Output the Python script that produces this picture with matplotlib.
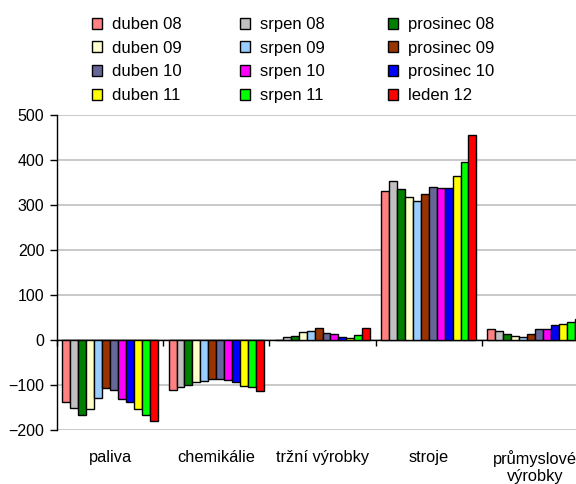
import matplotlib
matplotlib.use("Agg")
import matplotlib.pyplot as plt
import matplotlib.transforms as mtransforms
from matplotlib.patches import Patch
import numpy as np

plt.rcParams['font.family'] = ['Liberation Sans', 'DejaVu Sans']

categories = ["paliva", "chemikálie", "tržní výrobky", "stroje", "průmyslové\nvýrobky"]
series_names = ["duben 08", "srpen 08", "prosinec 08",
                "duben 09", "srpen 09", "prosinec 09",
                "duben 10", "srpen 10", "prosinec 10",
                "duben 11", "srpen 11", "leden 12"]
colors = ["#FF8080", "#C0C0C0", "#008000",
          "#FFFFCC", "#99CCFF", "#993300",
          "#666699", "#FF00FF", "#0000FF",
          "#FFFF00", "#00FF00", "#FF0000"]

paliva = [-137, -150, -167, -153, -128, -107, -111, -130, -138, -154, -166, -179]
chemikalie = [-110, -105, -101, -93, -91, -87, -87, -89, -93, -102, -105, -113]
trzni = [1, 6, 9, 18, 21, 26, 16, 13, 6, 4, 11, 26]
stroje = [331, 353, 336, 318, 308, 325, 339, 337, 337, 365, 396, 456]
prumyslove = [24, 21, 13, 8, 7, 13, 24, 24, 33, 35, 41, 47]

data = np.array([paliva, chemikalie, trzni, stroje, prumyslove])  # cat x series

W, H = 576, 484
fig = plt.figure(figsize=(W / 100, H / 100), dpi=100)
ax = fig.add_axes([57 / W, 54 / H, (588 - 57) / W, (430 - 115) / H])

ncat = len(categories)
nser = len(series_names)
bw = 0.0749
x = np.arange(ncat) + 0.5
for j in range(nser):
    ax.bar(x + (j - (nser - 1) / 2) * bw, data[:, j], width=bw,
           color=colors[j], edgecolor="black", linewidth=1.0, zorder=3)

ax.set_xlim(0, ncat)
ax.set_ylim(-200, 500)
ax.set_yticks(np.arange(-200, 501, 100))
ax.yaxis.grid(True, color="#C0C0C0", linewidth=1.2, zorder=0)
ax.set_axisbelow(True)

for s in ["top", "right"]:
    ax.spines[s].set_visible(False)
ax.spines["left"].set_linewidth(1.0)
ax.spines["bottom"].set_position(("data", 0))
ax.spines["bottom"].set_linewidth(1.0)
ax.set_xticks(np.arange(0, ncat + 1))
ax.set_xticklabels([])
ax.tick_params(axis="x", direction="out", length=4, width=1)
ax.tick_params(axis="y", direction="out", length=5, width=1, labelsize=11.5, pad=4)

trans = mtransforms.blended_transform_factory(ax.transData, ax.transAxes)
for i, c in enumerate(categories):
    ax.text(x[i], -0.064, c, transform=trans, ha="center", va="top",
            fontsize=11.8, linespacing=1.15)

handles = [Patch(facecolor=colors[j], edgecolor="black", linewidth=1.0) for j in range(nser)]
col_x = [92, 240, 388]
for col in range(3):
    idx = [row * 3 + col for row in range(4)]
    leg = fig.legend([handles[k] for k in idx], [series_names[k] for k in idx],
                     ncol=1, loc="upper left",
                     bbox_to_anchor=(col_x[col] / W, 1 - 17 / H),
                     frameon=False, fontsize=12, handlelength=0.62, handleheight=0.62,
                     handletextpad=0.6, labelspacing=0.52,
                     borderaxespad=0, borderpad=0)

fig.savefig("out.png", dpi=100)
